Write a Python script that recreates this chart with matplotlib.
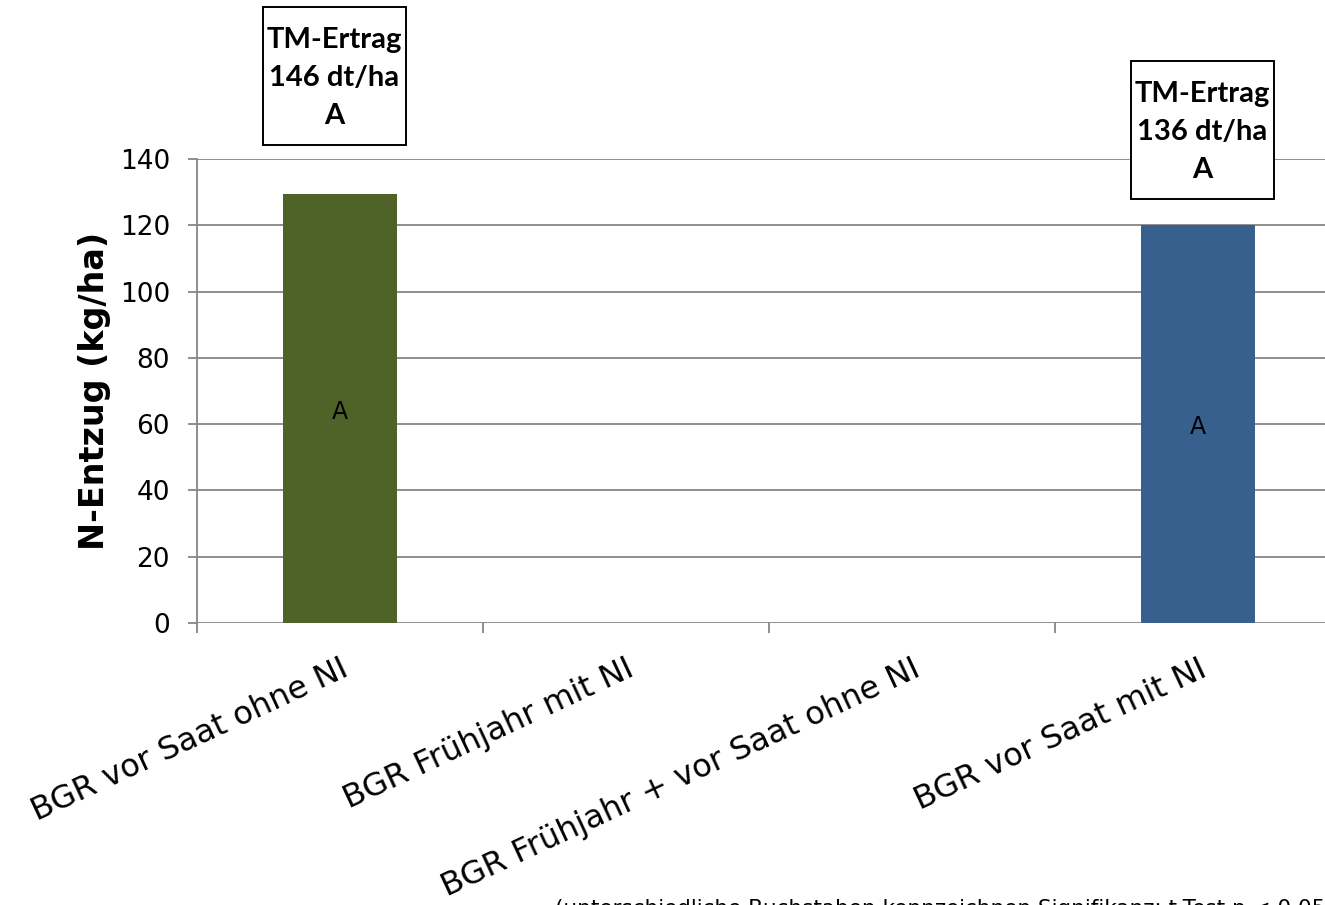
import matplotlib.pyplot as plt
import numpy as np
from matplotlib.patches import Rectangle

# N-Entzug je Variante
categories = ["BGR vor Saat ohne NI", "BGR Frühjahr mit NI",
              "BGR Frühjahr + vor Saat ohne NI", "BGR vor Saat mit NI"]
n_entzug = [129.5, 0, 0, 120]
sig_letters = ["A", "", "", "A"]
tm_ertrag = [146, None, None, 136]
tm_letters = ["A", None, None, "A"]

bar_colors = ["#4F6228", "#4F6228", "#4F6228", "#37608F"]
# Lage der Ertragsboxen (Mitte x-Versatz, Mitte y)
box_dx = [-0.02, None, None, 0.016]
box_y = [165, None, None, 148.7]
box_w, box_h = 0.5, 41.6

fig = plt.figure(figsize=(13.25, 9.05), dpi=100)
ax = fig.add_axes([0.1487, 0.3116, 0.8634, 0.5127])

x = np.arange(len(categories))
ax.bar(x, n_entzug, width=0.4, color=bar_colors, zorder=3)

for xi, val, s in zip(x, n_entzug, sig_letters):
    if s:
        ax.text(xi, val / 2 - 1, s, ha="center", va="center", fontsize=17,
                family="DejaVu Sans", zorder=4)

for xi, tm, s, dx, yb in zip(x, tm_ertrag, tm_letters, box_dx, box_y):
    if tm is None:
        continue
    cx = xi + dx
    ax.add_patch(Rectangle((cx - box_w / 2, yb - box_h / 2), box_w, box_h,
                           fc="white", ec="black", lw=1.4, clip_on=False, zorder=5))
    ax.text(cx, yb - 0.5, f"TM-Ertrag\n{tm} dt/ha\n{s}", ha="center", va="center",
            fontsize=21, fontweight="bold", family="Lato", linespacing=1.57,
            clip_on=False, zorder=6)

ax.set_xlim(-0.5, 3.5)
ax.set_ylim(0, 140)
ax.set_yticks(np.arange(0, 141, 20))
ax.tick_params(axis="y", labelsize=19, length=6.5, width=1.3, color="#868686", pad=13)
ax.yaxis.grid(True, color="#868686", lw=1.3, zorder=0)

# Striche zwischen den Kategorien, Beschriftung in der Mitte
ax.set_xticks(np.arange(-0.5, 4.0, 1.0))
ax.set_xticklabels([])
ax.tick_params(axis="x", length=7.5, width=1.3, color="#868686")
ax.set_xticks(x, minor=True)
ax.set_xticklabels(categories, minor=True, rotation=25, ha="right",
                   rotation_mode="anchor", fontsize=23)
ax.tick_params(axis="x", which="minor", length=0, pad=22)

for side in ["top", "right", "bottom"]:
    ax.spines[side].set_visible(False)
ax.spines["left"].set_color("#868686")
ax.spines["left"].set_linewidth(1.3)

ax.set_ylabel("N-Entzug (kg/ha)", fontsize=24, fontweight="bold", labelpad=6)

fig.text(0.419, 0.007, "(unterschiedliche Buchstaben kennzeichnen Signifikanz; t-Test p < 0,05)",
         fontsize=15.5, va="top", family="DejaVu Sans")

fig.savefig("out.png", dpi=100)
